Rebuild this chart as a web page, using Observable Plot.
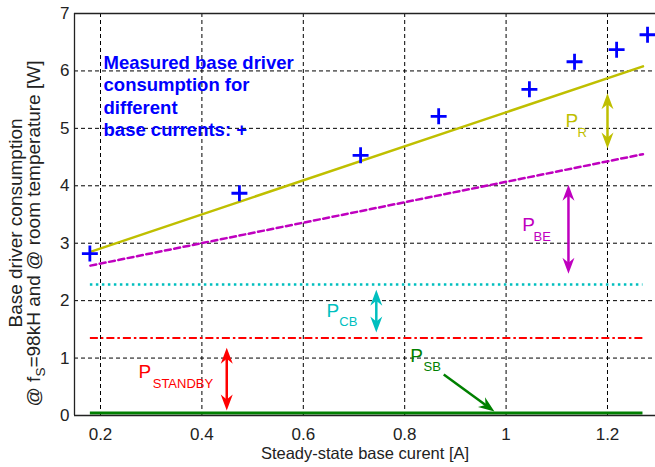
<!DOCTYPE html>
<html>
<head>
<meta charset="utf-8">
<script src="https://cdn.jsdelivr.net/npm/d3@7"></script>
<script src="https://cdn.jsdelivr.net/npm/@observablehq/plot@0.6"></script>
<style>
  html, body { margin: 0; padding: 0; background: #fff; }
</style>
</head>
<body>
<div id="chart"></div>
<script>
// Measured base driver consumption (W) against steady-state base current (A)
const measuredCurrent = [0.179, 0.474, 0.713, 0.867, 1.046, 1.135, 1.218, 1.279];
const measuredPower   = [2.82, 3.87, 4.53, 5.21, 5.68, 6.16, 6.37, 6.63];

// Modelled loss components over the current range
const modelCurrent = [0.18, 1.27];
const totalModel   = [2.85, 6.08];   // top of P_R (solid)
const beModel      = [2.61, 4.55];   // top of P_BE (dashed)
const cbLevel      = 2.28;           // top of P_CB (dotted)
const standbyLevel = 1.35;           // top of P_STANDBY (dash-dot)
const sbLevel      = 0.045;          // P_SB (solid)

// Double arrows spanning each component
const arrowNames  = ["R", "BE", "CB", "STANDBY"];
const arrowX      = [1.2, 1.123, 0.744, 0.449];
const arrowTop    = [5.61, 4.02, 2.19, 1.18];
const arrowBottom = [4.65, 2.47, 1.445, 0.087];
// Single arrow pointing at the P_SB line
const sbArrowFrom = [0.877, 0.714];
const sbArrowTo   = [0.977, 0.07];

// Component labels: "P" plus subscript
const labelSubs = ["R", "BE", "CB", "STANDBY", "SB"];
const labelPX   = [1.117, 1.032, 0.646, 0.275, 0.811];
const labelPY   = [5.137, 3.317, 1.828, 0.766, 1.045];
const labelSubX = [1.141, 1.054, 0.671, 0.303, 0.837];
const labelSubY = [4.928, 3.117, 1.628, 0.557, 0.853];

// Note in the upper-left corner
const noteText = "Measured base driver\nconsumption for\ndifferent\nbase currents: +";
const noteX = 0.206;
const noteY = 6.317;

// Axes
const xTicks = [0.2, 0.4, 0.6, 0.8, 1, 1.2];
const xTickLabels = ["0.2", "0.4", "0.6", "0.8", "1", "1.2"];
const yTicks = [0, 1, 2, 3, 4, 5, 6, 7];
const yTickLabels = ["0", "1", "2", "3", "4", "5", "6", "7"];
const yGrid = [1, 2, 3, 4, 5, 6];
const xDomain = [0.1487, 1.2947];
const yDomain = [0, 7];
const xLabel = "Steady-state base curent [A]";
const yLabel1 = "Base driver consumption";
const yLabel2 = "@ f_{S}=98kH and @ room temperature [W]";

const componentColors = {
  R: "#bfbf00", BE: "#bf00bf", CB: "#00bfbf", STANDBY: "#ff0000", SB: "#008000"
};

// Layout
const W = 655, H = 467;
const mLeft = 74, mRight = 0, mTop = 13, mBottom = 52;
const kx = (W - mLeft - mRight) / (xDomain[1] - xDomain[0]); // px per A
const ky = (H - mTop - mBottom) / (yDomain[1] - yDomain[0]); // px per W

// Filled, notched arrowhead with its tip at the origin, pointing along angleDeg (screen space)
function headSymbol(angleDeg, length = 16, halfWidth = 6, notch = 11) {
  const a = angleDeg * Math.PI / 180, c = Math.cos(a), s = Math.sin(a);
  const pts = [[0, 0], [-length, -halfWidth], [-notch, 0], [-length, halfWidth]];
  return {
    draw(ctx) {
      pts.forEach(([px, py], k) => {
        const X = px * c - py * s, Y = px * s + py * c;
        if (k) ctx.lineTo(X, Y); else ctx.moveTo(X, Y);
      });
      ctx.closePath();
    }
  };
}
const headUp = headSymbol(-90);
const headDown = headSymbol(90);

// Screen direction of the P_SB arrow, used for its head and shaft
const sbDx = (sbArrowTo[0] - sbArrowFrom[0]) * kx;
const sbDy = -(sbArrowTo[1] - sbArrowFrom[1]) * ky;
const sbLen = Math.hypot(sbDx, sbDy);
const sbAngle = Math.atan2(sbDy, sbDx) * 180 / Math.PI;
const headSB = headSymbol(sbAngle);
const shaftInset = 8; // px, shaft stops inside the head
const sbShaftEnd = [
  sbArrowTo[0] - (sbDx / sbLen) * shaftInset / kx,
  sbArrowTo[1] + (sbDy / sbLen) * shaftInset / ky
];

const arrowIdx = d3.range(arrowX.length);
const labelIdx = d3.range(labelSubs.length);
const pointIdx = d3.range(measuredCurrent.length);
const modelIdx = d3.range(modelCurrent.length);
const gridStyle = { stroke: "#000", strokeOpacity: 1, strokeWidth: 1, strokeDasharray: "4,3" };
const font = "'Liberation Sans', Arial, Helvetica, sans-serif";

const chart = Plot.plot({
  width: W,
  height: H,
  marginLeft: mLeft,
  marginRight: mRight,
  marginTop: mTop,
  marginBottom: mBottom,
  style: { fontFamily: font, fontSize: "17px", background: "#fff", color: "#222" },
  x: { domain: xDomain },
  y: { domain: yDomain },
  color: { type: "identity" },
  marks: [
    Plot.gridX(xTicks, gridStyle),
    Plot.gridY(yGrid, gridStyle),
    Plot.axisX(xTicks, {
      tickSize: 0, tickPadding: 12, label: null, fontSize: 17, fill: "#222",
      tickFormat: d => xTickLabels[xTicks.indexOf(d)]
    }),
    Plot.axisY(yTicks, {
      tickSize: 0, tickPadding: 5, label: null, fontSize: 17, fill: "#222",
      tickFormat: d => yTickLabels[yTicks.indexOf(d)]
    }),

    // Component levels
    Plot.ruleY([sbLevel], { x1: modelCurrent[0], x2: modelCurrent[1], stroke: componentColors.SB, strokeWidth: 3 }),
    Plot.ruleY([standbyLevel], { x1: modelCurrent[0], x2: modelCurrent[1], stroke: componentColors.STANDBY, strokeWidth: 2, strokeDasharray: "8,3,2.5,3" }),
    Plot.ruleY([cbLevel], { x1: modelCurrent[0], x2: modelCurrent[1], stroke: componentColors.CB, strokeWidth: 2.5, strokeDasharray: "2.5,3.5" }),
    Plot.line(modelIdx, { x: i => modelCurrent[i], y: i => beModel[i], stroke: componentColors.BE, strokeWidth: 2.5, strokeDasharray: "6,3.5" }),
    Plot.line(modelIdx, { x: i => modelCurrent[i], y: i => totalModel[i], stroke: componentColors.R, strokeWidth: 2.5 }),

    // Axes box (left, top and bottom edges)
    Plot.ruleY([yDomain[0], yDomain[1]], { stroke: "#222", strokeWidth: 1.3 }),
    Plot.ruleX([xDomain[0]], { stroke: "#222", strokeWidth: 1.3 }),

    // Measurements
    Plot.dot(pointIdx, { x: i => measuredCurrent[i], y: i => measuredPower[i], symbol: "plus", r: 5.2, stroke: "#0000ff", strokeWidth: 2.8 }),

    // Double arrows
    Plot.link(arrowIdx, {
      x1: i => arrowX[i], x2: i => arrowX[i],
      y1: i => arrowTop[i] - shaftInset / ky, y2: i => arrowBottom[i] + shaftInset / ky,
      stroke: i => componentColors[arrowNames[i]], strokeWidth: 2.5
    }),
    Plot.dot(arrowIdx, { x: i => arrowX[i], y: i => arrowTop[i], symbol: headUp, r: 4, fill: i => componentColors[arrowNames[i]], stroke: "none" }),
    Plot.dot(arrowIdx, { x: i => arrowX[i], y: i => arrowBottom[i], symbol: headDown, r: 4, fill: i => componentColors[arrowNames[i]], stroke: "none" }),

    // P_SB pointer
    Plot.link([0], {
      x1: () => sbArrowFrom[0], y1: () => sbArrowFrom[1],
      x2: () => sbShaftEnd[0], y2: () => sbShaftEnd[1],
      stroke: componentColors.SB, strokeWidth: 2.5
    }),
    Plot.dot([0], { x: () => sbArrowTo[0], y: () => sbArrowTo[1], symbol: headSB, r: 4, fill: componentColors.SB, stroke: "none" }),

    // Component labels
    Plot.text(labelIdx, {
      x: i => labelPX[i], y: i => labelPY[i], text: () => "P",
      fill: i => componentColors[labelSubs[i]], fontSize: 19, textAnchor: "start", lineAnchor: "middle"
    }),
    Plot.text(labelIdx, {
      x: i => labelSubX[i], y: i => labelSubY[i], text: i => labelSubs[i],
      fill: i => componentColors[labelSubs[i]], fontSize: 13, textAnchor: "start", lineAnchor: "middle"
    }),

    // Note
    Plot.text([noteText], {
      x: () => noteX, y: () => noteY, text: d => d,
      textAnchor: "start", lineAnchor: "top", lineHeight: 1.22,
      fontSize: 18.5, fontWeight: "bold", fill: "#0000ff"
    }),

    // Axis titles
    Plot.text([xLabel], { text: d => d, frameAnchor: "bottom", dy: 38, lineAnchor: "middle", fontSize: 16.5, fill: "#222" }),
    Plot.text([yLabel1], { text: d => d, frameAnchor: "left", textAnchor: "middle", rotate: -90, dx: -59, dy: 8.5, lineAnchor: "middle", fontSize: 19, fill: "#222" }),
    Plot.text([yLabel2], { text: d => d, frameAnchor: "left", textAnchor: "middle", rotate: -90, dx: -41, dy: 19, lineAnchor: "middle", fontSize: 19, fill: "#222" })
  ]
});

// Turn "_{...}" markup into subscript tspans
function applySubscripts(svg) {
  svg.querySelectorAll("text").forEach(t => {
    const s = t.textContent;
    if (!s.includes("_{")) return;
    const parts = s.split(/_\{([^}]*)\}/);
    while (t.firstChild) t.removeChild(t.firstChild);
    let shifted = false;
    parts.forEach((p, i) => {
      if (!p) return;
      const span = document.createElementNS("http://www.w3.org/2000/svg", "tspan");
      span.textContent = p;
      if (i % 2 === 1) {
        span.setAttribute("font-size", "13.5");
        span.setAttribute("dy", "5");
        shifted = true;
      } else if (shifted) {
        span.setAttribute("dy", "-5");
        shifted = false;
      }
      t.appendChild(span);
    });
  });
}
applySubscripts(chart);

document.getElementById("chart").appendChild(chart);
</script>
</body>
</html>
